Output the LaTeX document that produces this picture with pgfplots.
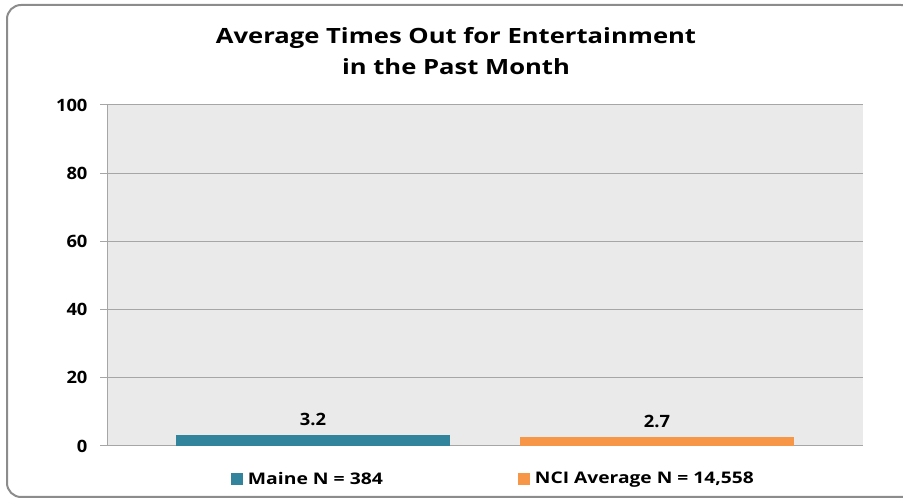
\documentclass[border=0pt]{standalone}
\usepackage{fontspec}
\setmainfont{Open Sans}
\usepackage{pgfplots}
\pgfplotsset{compat=1.18}
\definecolor{maine}{HTML}{31849B}
\definecolor{nci}{HTML}{F79646}
\definecolor{plotbg}{HTML}{EAEAEA}
\definecolor{gridc}{HTML}{A6A6A6}
\definecolor{framec}{HTML}{8C8C8C}
\newcommand{\wide}[2][1.12]{\scalebox{#1}[1]{#2}}
\begin{document}
\begin{tikzpicture}[x=1pt,y=1pt]
  % page size and chart frame (cut at the right edge as in the original)
  \path (0,0) rectangle (903,501);
  \begin{scope}
    \clip (0,0) rectangle (903,501);
    \draw[framec, line width=2pt, rounded corners=14pt] (7,4) rectangle (915,496);
  \end{scope}
  \node[font=\fontsize{21}{31}\selectfont\bfseries, align=center] at (456,450)
    {\wide[1.22]{Average Times Out for Entertainment}\\\wide[1.22]{in the Past Month}};
  \begin{axis}[
      at={(107pt,55pt)}, anchor=south west,
      scale only axis,
      width=756pt, height=341pt,
      ybar, bar width=274pt,
      xmin=-1, xmax=1,
      ymin=0, ymax=100,
      ytick={0,20,...,100},
      xtick=\empty,
      axis background/.style={fill=plotbg},
      ymajorgrids, grid style={gridc, line width=1pt},
      axis line style={gridc, line width=1pt},
      axis x line*=bottom, axis y line*=left,
      y axis line style={-},
      x axis line style={-},
      ytick style={gridc, line width=1pt},
      tick align=outside, major tick length=7pt,
      yticklabel style={font=\fontsize{17}{20}\selectfont\bfseries, xshift=-9pt},
      yticklabel={\wide[1.08]{\pgfmathprintnumber{\tick}}},
      /pgf/number format/assume math mode=true,
      nodes near coords={\wide[1.08]{\pgfmathprintnumber[fixed,precision=1,zerofill]{\pgfplotspointmeta}}},
      every node near coord/.append style={font=\fontsize{17}{20}\selectfont\bfseries, yshift=6pt},
      legend columns=2,
      legend style={draw=none, fill=none, at={(0.513,-0.096)}, anchor=center,
        font=\fontsize{16}{20}\selectfont\bfseries,
        nodes={inner xsep=5pt},
        /tikz/every even column/.append style={column sep=130pt}},
      legend image code/.code={\fill[#1] (0pt,-6pt) rectangle (12pt,6pt);},
    ]
    \addplot[fill=maine, draw=none, bar shift=-172pt] coordinates {(0,3.2)};
    \addplot[fill=nci, draw=none, bar shift=172pt] coordinates {(0,2.7)};
    \legend{\wide[1.21]{Maine N = 384}, \wide[1.2]{NCI Average N = 14,558}}
  \end{axis}
\end{tikzpicture}
\end{document}
